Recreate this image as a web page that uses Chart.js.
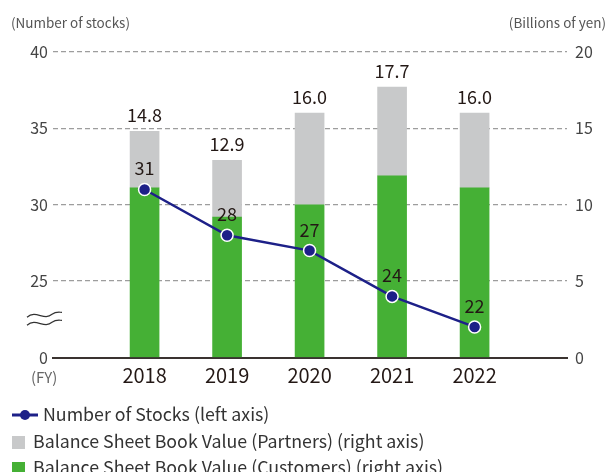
<!DOCTYPE html>
<html>
<head>
<meta charset="utf-8">
<script src="https://cdn.jsdelivr.net/npm/chart.js@4.4.1/dist/chart.umd.min.js"></script>
<style>
  body { margin: 0; background: #fff; font-family: 'Noto Sans CJK JP', 'Noto Sans', sans-serif; }
  #wrap { position: relative; width: 609px; height: 472px; overflow: hidden; }
  #chartBox { position: absolute; left: 0; top: 0; width: 609px; height: 400px; }
  .note { position: absolute; font-size: 13.5px; color: #555; white-space: nowrap; }
  .legend { position: absolute; left: 12px; font-size: 17.8px; color: #333; white-space: nowrap; }
  .legend .row { position: absolute; left: 0; height: 20px; line-height: 20px; }
  .legend .sq { display: inline-block; width: 13px; height: 13px; margin-right: 8px; vertical-align: -1px; }
</style>
</head>
<body>
<div id="wrap">
  <div id="chartBox"><canvas id="chart"></canvas></div>
  <div class="note" style="left:11px; top:12px;">(Number of stocks)</div>
  <div class="note" style="right:3px; top:12px;">(Billions of yen)</div>
  <div class="note" style="left:31px; top:366px; font-size:15px; color:#666;">(FY)</div>
  <div class="legend" style="top:403px;">
    <div class="row" style="top:0;">
      <svg width="26" height="14" style="vertical-align:-1px; margin-right:5px;">
        <line x1="0" y1="7" x2="26" y2="7" stroke="#1d2088" stroke-width="3"/>
        <circle cx="13" cy="7" r="5" fill="#1d2088"/>
      </svg>Number of Stocks (left axis)</div>
    <div class="row" style="top:27px;"><span class="sq" style="background:#c8c9ca;"></span>Balance Sheet Book Value (Partners) (right axis)</div>
    <div class="row" style="top:53px;"><span class="sq" style="background:#45b035;"></span>Balance Sheet Book Value (Customers) (right axis)</div>
  </div>
</div>
<script>
// Fiscal years
const years = [2018, 2019, 2020, 2021, 2022];
// Number of stocks (left axis)
const stocks = [31, 28, 27, 24, 22];
// Book value, billions of yen (right axis)
const customers = [11.1, 9.2, 10.0, 11.9, 11.1];
const partners = [3.7, 3.7, 6.0, 5.8, 4.9];
const totals = ['14.8', '12.9', '16.0', '17.7', '16.0'];
// Left axis labels (axis is broken between 0 and 25)
const leftTicks = ['0', '25', '30', '35', '40'];
const breakBase = 20;

const FONT = "'Noto Sans CJK JP', 'Noto Sans', sans-serif";
const GREEN = '#45b035';
const GRAY = '#c8c9ca';
const NAVY = '#1d2088';

// value labels above bars and points, plus the axis break mark
const labelsPlugin = {
  id: 'labels',
  afterDatasetsDraw(chart) {
    const { ctx, scales } = chart;
    const x = scales.x, y = scales.y, yL = scales.yL;
    ctx.save();
    ctx.fillStyle = '#231815';
    ctx.textAlign = 'center';
    ctx.textBaseline = 'alphabetic';
    ctx.font = `18px ${FONT}`;
    years.forEach((yr, i) => {
      const top = y.getPixelForValue(customers[i] + partners[i]);
      ctx.fillText(totals[i], x.getPixelForValue(yr), top - 9);
      const py = yL.getPixelForValue(stocks[i] - breakBase);
      ctx.fillText(String(stocks[i]), x.getPixelForValue(yr), py - 14);
    });

    // break symbol on the left axis
    const by = y.getPixelForValue(2.5);
    ctx.strokeStyle = '#333';
    ctx.lineWidth = 1.2;
    [-4, 4].forEach(off => {
      ctx.beginPath();
      ctx.moveTo(27, by + off + 2);
      ctx.bezierCurveTo(36, by + off - 6, 44, by + off + 6, 52, by + off - 1);
      ctx.bezierCurveTo(56, by + off - 4, 59, by + off - 3, 62, by + off - 3);
      ctx.stroke();
    });
    ctx.restore();
  }
};

new Chart(document.getElementById('chart'), {
  data: {
    datasets: [
      {
        type: 'bar',
        label: 'Balance Sheet Book Value (Customers) (right axis)',
        data: years.map((yr, i) => ({ x: yr, y: customers[i] })),
        backgroundColor: GREEN,
        barThickness: 29,
        yAxisID: 'y',
        order: 1
      },
      {
        type: 'bar',
        label: 'Balance Sheet Book Value (Partners) (right axis)',
        data: years.map((yr, i) => ({ x: yr, y: partners[i] })),
        backgroundColor: GRAY,
        barThickness: 29,
        yAxisID: 'y',
        order: 1
      },
      {
        type: 'line',
        label: 'Number of Stocks (left axis)',
        data: years.map((yr, i) => ({ x: yr, y: stocks[i] - breakBase })),
        borderColor: NAVY,
        borderWidth: 2.5,
        pointRadius: 6,
        pointBackgroundColor: NAVY,
        pointBorderColor: '#fff',
        pointBorderWidth: 1.5,
        pointHoverRadius: 6,
        tension: 0,
        yAxisID: 'yL',
        order: 0
      }
    ]
  },
  options: {
    responsive: true,
    maintainAspectRatio: false,
    animation: false,
    layout: { padding: { top: 52, bottom: 2.5, left: 0, right: 0 } },
    plugins: {
      legend: { display: false },
      tooltip: { enabled: false }
    },
    scales: {
      x: {
        type: 'linear',
        offset: false,
        min: 2016.89,
        max: 2023.12,
        stacked: true,
        afterBuildTicks: axis => { axis.ticks = years.map(v => ({ value: v })); },
        afterFit: axis => { axis.height = 40; },
        grid: { display: false, drawTicks: false },
        border: { display: true, color: '#3a3330', width: 2 },
        ticks: {
          padding: 6,
          color: '#231815',
          font: { family: FONT, size: 20 },
          callback: v => String(v)
        }
      },
      y: {
        position: 'right',
        min: 0,
        max: 20,
        stacked: true,
        afterFit: axis => { axis.width = 42; },
        grid: {
          drawTicks: false,
          lineWidth: 1.3,
          color: c => (c.tick && c.tick.value === 0) ? 'rgba(0,0,0,0)' : '#9d9d9d'
        },
        border: { display: false, dash: [5, 3] },
        ticks: {
          stepSize: 5,
          padding: 8,
          color: '#444',
          font: { family: FONT, size: 16 }
        }
      },
      yL: {
        position: 'left',
        min: 0,
        max: 20,
        afterFit: axis => { axis.width = 53; },
        grid: { display: false, drawTicks: false },
        border: { display: false },
        ticks: {
          stepSize: 5,
          padding: 5,
          color: '#444',
          font: { family: FONT, size: 16 },
          callback: v => leftTicks[v / 5]
        }
      }
    }
  },
  plugins: [labelsPlugin]
});
</script>
</body>
</html>
